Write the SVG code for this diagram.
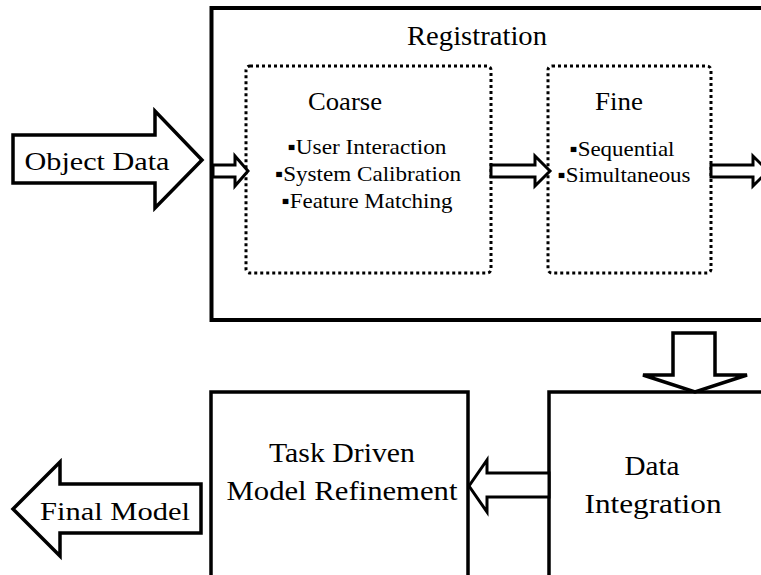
<svg xmlns="http://www.w3.org/2000/svg" width="761" height="575" viewBox="0 0 761 575">
  <style>
    .box { fill: #ffffff; stroke: #000000; stroke-width: 3.5; }
    .dotted { fill: none; stroke: #000000; stroke-width: 3; stroke-dasharray: 3 3; }
    .arrow { fill: #ffffff; stroke: #000000; stroke-width: 3; stroke-linejoin: miter; }
    .big { fill: #ffffff; stroke: #000000; stroke-width: 3.5; stroke-linejoin: miter; }
  </style>
  <rect x="0" y="0" width="761" height="575" fill="#ffffff"/>

  <!-- Registration stage with its two sub-steps -->
  <g id="registration">
    <rect class="box" x="211.5" y="8" width="600" height="312" style="stroke-width:4"/>
    <text font-family="Liberation Serif" font-size="28" text-anchor="middle" x="477" y="45" textLength="140" lengthAdjust="spacingAndGlyphs">Registration</text>
  </g>
  <g id="coarse">
    <rect class="dotted" x="246" y="66" width="245" height="207" rx="4"/>
    <text font-family="Liberation Serif" font-size="26" text-anchor="middle" x="345" y="110" textLength="74" lengthAdjust="spacingAndGlyphs">Coarse</text>
    <text font-family="Liberation Serif" font-size="21" text-anchor="middle" x="367" y="154" textLength="159" lengthAdjust="spacingAndGlyphs">▪User Interaction</text>
    <text font-family="Liberation Serif" font-size="21" text-anchor="middle" x="368" y="181" textLength="186" lengthAdjust="spacingAndGlyphs">▪System Calibration</text>
    <text font-family="Liberation Serif" font-size="21" text-anchor="middle" x="367" y="208" textLength="171" lengthAdjust="spacingAndGlyphs">▪Feature Matching</text>
  </g>
  <g id="fine">
    <rect class="dotted" x="548" y="66" width="163" height="207" rx="4"/>
    <text font-family="Liberation Serif" font-size="26" text-anchor="middle" x="619" y="110" textLength="48" lengthAdjust="spacingAndGlyphs">Fine</text>
    <text font-family="Liberation Serif" font-size="21" text-anchor="middle" x="622" y="156" textLength="105" lengthAdjust="spacingAndGlyphs">▪Sequential</text>
    <text font-family="Liberation Serif" font-size="21" text-anchor="middle" x="624" y="182" textLength="133" lengthAdjust="spacingAndGlyphs">▪Simultaneous</text>
  </g>

  <!-- Lower stages -->
  <g id="task-refinement">
    <rect class="box" x="211" y="392" width="257" height="220"/>
    <text font-family="Liberation Serif" font-size="28" text-anchor="middle" x="342" y="462" textLength="146" lengthAdjust="spacingAndGlyphs">Task Driven</text>
    <text font-family="Liberation Serif" font-size="28" text-anchor="middle" x="342" y="500" textLength="231" lengthAdjust="spacingAndGlyphs">Model Refinement</text>
  </g>
  <g id="data-integration">
    <rect class="box" x="549" y="392" width="260" height="220"/>
    <text font-family="Liberation Serif" font-size="28" text-anchor="middle" x="652" y="475" textLength="55" lengthAdjust="spacingAndGlyphs">Data</text>
    <text font-family="Liberation Serif" font-size="28" text-anchor="middle" x="653" y="513" textLength="137" lengthAdjust="spacingAndGlyphs">Integration</text>
  </g>

  <!-- Input and output block arrows -->
  <g id="object-data">
    <polygon class="big" points="13,135 155,135 155,111 202,160 155,208 155,183 13,183"/>
    <text font-family="Liberation Serif" font-size="26" text-anchor="middle" x="97" y="170" textLength="145" lengthAdjust="spacingAndGlyphs">Object Data</text>
  </g>
  <g id="final-model">
    <polygon class="big" points="201,484 60,484 60,462 13,509 60,556 60,533 201,533"/>
    <text font-family="Liberation Serif" font-size="26" text-anchor="middle" x="115" y="520" textLength="150" lengthAdjust="spacingAndGlyphs">Final Model</text>
  </g>

  <!-- Connectors -->
  <g id="connectors">
    <polygon class="arrow" points="213,165 235,165 235,156 248,171 235,186 235,177 213,177"/>
    <polygon class="arrow" points="491,165 535,165 535,156 550,171 535,186 535,177 491,177"/>
    <polygon class="arrow" points="711,165 753,165 753,156 768,171 753,186 753,177 711,177"/>
    <polygon class="big" points="673,333 715,333 715,375 747,375 695,392 643,375 673,375"/>
    <polygon class="arrow" points="549,473 487,473 487,460 469,486 487,512 487,497 549,497"/>
  </g>
</svg>
